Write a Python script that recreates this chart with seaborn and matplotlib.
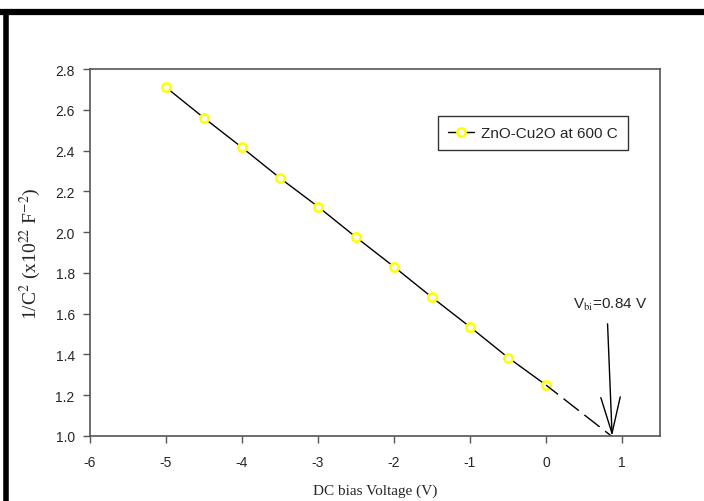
import matplotlib
matplotlib.use("Agg")
import matplotlib.pyplot as plt
from matplotlib.lines import Line2D
import seaborn as sns
import pandas as pd

voltage = [-5.0, -4.5, -4.0, -3.5, -3.0, -2.5, -2.0, -1.5, -1.0, -0.5, 0.0]
inv_c2 = [2.71, 2.56, 2.415, 2.265, 2.125, 1.975, 1.83, 1.68, 1.535, 1.385, 1.25]
series_label = "ZnO-Cu2O at 600 C"
vbi = 0.86
x_ticks = [-6, -5, -4, -3, -2, -1, 0, 1]
y_ticks = [1.0, 1.2, 1.4, 1.6, 1.8, 2.0, 2.2, 2.4, 2.6, 2.8]

sns.set_theme(style="white")
plt.rcParams["font.family"] = ["Liberation Sans", "DejaVu Sans"]
plt.rcParams["mathtext.fontset"] = "stix"

df = pd.DataFrame({"V": voltage, "C": inv_c2})

fig = plt.figure(figsize=(7.04, 5.02), dpi=100)
ax = fig.add_axes([90/704, 1-437/502, 570/704, 367/502])

sns.lineplot(data=df, x="V", y="C", ax=ax, color="black", linewidth=1.0,
             marker="o", markersize=6, markerfacecolor="white",
             markeredgecolor="#ffff00", markeredgewidth=1.8,
             label=series_label)

# extrapolation dashed line
sns.lineplot(x=[voltage[-1], vbi], y=[inv_c2[-1], 1.0], ax=ax, color="black",
             linewidth=1.0, dashes=False, linestyle=(3, (14, 5)), legend=False)

ax.set_xlim(-6, 1.5)
ax.set_ylim(1.0, 2.8)
ax.set_xticks(x_ticks)
ax.set_yticks(y_ticks)
ax.set_xticklabels([str(t) for t in x_ticks], fontsize=10)
ax.set_yticklabels([f"{t:.1f}" for t in y_ticks], fontsize=10)
ax.tick_params(axis="both", direction="out", length=5, width=1, color="#555555",
               bottom=True, left=True, pad=6)
ax.tick_params(axis="x", pad=9)
for s in ax.spines.values():
    s.set_color("#555555")
    s.set_linewidth(1.2)

ax.set_xlabel("DC bias Voltage (V)", family="Liberation Serif", fontsize=11, labelpad=10)
ax.set_ylabel("1/C$^{2}$ (x10$^{22}$ F$^{-2}$)", family="Liberation Serif", fontsize=14,
              labelpad=9)

ax.annotate("", xy=(0.87, 1.0), xytext=(0.81, 1.55),
            arrowprops=dict(arrowstyle="->,head_length=1.3,head_width=0.35",
                            color="black", lw=1.0, mutation_scale=20,
                            shrinkA=0, shrinkB=0))
ax.text(0.36, 1.63, "V$_{\\mathrm{bi}}$=0.84 V", fontsize=11, ha="left", va="baseline")

leg = ax.legend(loc="upper right", bbox_to_anchor=(0.944, 0.872), borderaxespad=0,
                frameon=True, fancybox=False, fontsize=11, handlelength=1.7,
                handletextpad=0.5, borderpad=0.65)
leg.get_frame().set_edgecolor("black")
leg.get_frame().set_linewidth(1.0)

# outer black frame (top and left)
fig.add_artist(Line2D([0, 1], [1-13/502, 1-13/502], transform=fig.transFigure,
                      color="black", linewidth=4.5, solid_capstyle="butt"))
fig.add_artist(Line2D([5.5/704, 5.5/704], [0, 1-10/502], transform=fig.transFigure,
                      color="black", linewidth=4.0, solid_capstyle="butt"))

fig.savefig("out.png", dpi=100)
